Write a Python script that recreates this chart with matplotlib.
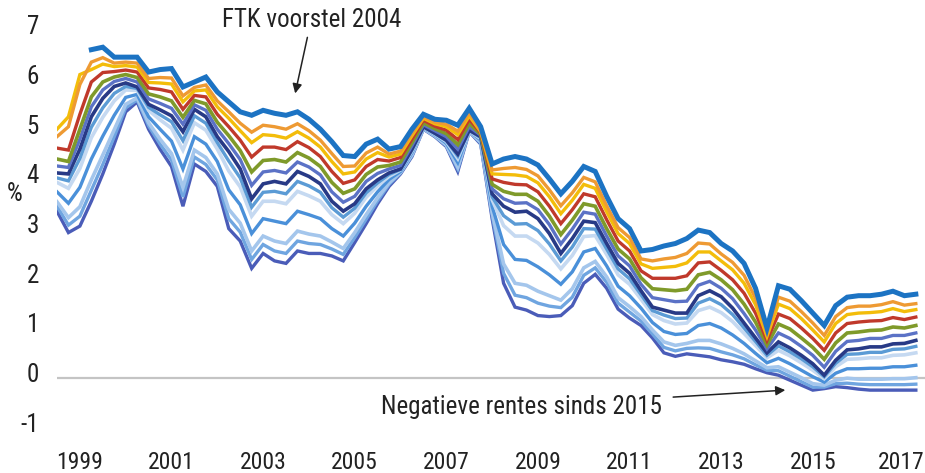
import matplotlib
matplotlib.use("Agg")
import matplotlib.pyplot as plt
import matplotlib.transforms as mtransforms
from matplotlib import font_manager
import numpy as np

installed = {f.name for f in font_manager.fontManager.ttflist}
narrow = [f for f in ["Liberation Sans Narrow", "Roboto Condensed", "DejaVu Sans Condensed",
                      "Open Sans Condensed", "Liberation Sans"] if f in installed]
plt.rcParams["font.family"] = narrow[:1] + ["DejaVu Sans"]
plt.rcParams["font.stretch"] = "condensed"
plt.rcParams["font.size"] = 18
plt.rcParams["axes.unicode_minus"] = False

nan = np.nan
# quarterly observations, 1999Q1 .. 2017Q4
quarters = np.arange(1999, 2018, 0.25)

# rates in %, from the longest maturity (top) to the shortest (bottom)
top_blue = [nan, nan, nan, 6.60, 6.65, 6.45, 6.45, 6.45, 6.15, 6.20,
            6.22, 5.85, 5.95, 6.05, 5.75, 5.55, 5.35, 5.28, 5.38, 5.32,
            5.28, 5.35, 5.20, 5.00, 4.75, 4.47, 4.45, 4.70, 4.80, 4.60,
            4.65, 5.00, 5.30, 5.20, 5.18, 5.08, 5.42, 5.05, 4.30, 4.40,
            4.45, 4.40, 4.28, 4.00, 3.70, 3.95, 4.25, 4.15, 3.65, 3.20,
            3.00, 2.55, 2.58, 2.65, 2.70, 2.80, 2.97, 2.92, 2.70, 2.55,
            2.30, 1.80, 1.00, 1.85, 1.78, 1.55, 1.30, 1.05, 1.45, 1.62,
            1.65, 1.65, 1.68, 1.74, 1.65, 1.68]
orange = [4.85, 5.05, 5.90, 6.35, 6.44, 6.33, 6.35, 6.33, 6.02, 6.04,
          6.03, 5.67, 5.84, 5.89, 5.57, 5.35, 5.12, 4.94, 5.08, 5.05,
          5.00, 5.11, 4.97, 4.78, 4.51, 4.25, 4.26, 4.52, 4.64, 4.50,
          4.56, 4.92, 5.25, 5.14, 5.10, 4.96, 5.33, 4.97, 4.18, 4.21,
          4.23, 4.19, 4.06, 3.78, 3.46, 3.72, 4.03, 3.94, 3.46, 3.02,
          2.82, 2.39, 2.35, 2.39, 2.42, 2.50, 2.71, 2.69, 2.49, 2.32,
          2.06, 1.60, 0.90, 1.62, 1.54, 1.33, 1.10, 0.85, 1.23, 1.41,
          1.44, 1.44, 1.47, 1.53, 1.46, 1.49]
yellow = [5.00, 5.25, 6.10, 6.20, 6.31, 6.26, 6.28, 6.25, 5.94, 5.93,
          5.91, 5.55, 5.77, 5.79, 5.45, 5.22, 4.97, 4.73, 4.89, 4.87,
          4.82, 4.95, 4.82, 4.64, 4.35, 4.10, 4.14, 4.40, 4.53, 4.44,
          4.50, 4.87, 5.22, 5.11, 5.05, 4.89, 5.27, 4.95, 4.10, 4.09,
          4.08, 4.05, 3.92, 3.64, 3.30, 3.57, 3.89, 3.81, 3.34, 2.90,
          2.70, 2.29, 2.20, 2.22, 2.24, 2.31, 2.53, 2.53, 2.35, 2.17,
          1.90, 1.47, 0.83, 1.48, 1.39, 1.19, 0.96, 0.72, 1.09, 1.27,
          1.30, 1.31, 1.33, 1.39, 1.33, 1.37]
red = [4.62, 4.58, 5.30, 5.95, 6.14, 6.16, 6.19, 6.15, 5.83, 5.80,
       5.75, 5.40, 5.68, 5.65, 5.30, 5.05, 4.78, 4.44, 4.64, 4.64,
       4.59, 4.75, 4.63, 4.45, 4.15, 3.91, 3.98, 4.25, 4.39, 4.36,
       4.43, 4.80, 5.18, 5.06, 4.98, 4.79, 5.20, 4.93, 4.00, 3.93,
       3.89, 3.88, 3.74, 3.45, 3.10, 3.38, 3.70, 3.64, 3.18, 2.75,
       2.55, 2.15, 2.00, 2.00, 2.00, 2.05, 2.31, 2.33, 2.16, 1.97,
       1.70, 1.30, 0.75, 1.28, 1.19, 1.00, 0.79, 0.55, 0.90, 1.09,
       1.12, 1.14, 1.15, 1.21, 1.17, 1.22]
green = [4.40, 4.35, 5.00, 5.65, 5.95, 6.05, 6.10, 6.04, 5.71, 5.65,
         5.57, 5.24, 5.58, 5.51, 5.14, 4.87, 4.57, 4.14, 4.37, 4.39,
         4.34, 4.53, 4.42, 4.25, 3.93, 3.71, 3.80, 4.09, 4.24, 4.27,
         4.34, 4.73, 5.13, 5.01, 4.91, 4.69, 5.12, 4.90, 3.89, 3.75,
         3.69, 3.69, 3.55, 3.25, 2.88, 3.17, 3.50, 3.45, 3.00, 2.59,
         2.39, 2.01, 1.79, 1.77, 1.75, 1.78, 2.07, 2.12, 1.97, 1.77,
         1.48, 1.12, 0.66, 1.08, 0.98, 0.80, 0.61, 0.37, 0.70, 0.90,
         0.92, 0.95, 0.96, 1.02, 1.00, 1.05]
slate = [4.26, 4.23, 4.80, 5.45, 5.79, 5.96, 6.02, 5.95, 5.61, 5.52,
         5.42, 5.10, 5.49, 5.38, 5.00, 4.71, 4.39, 3.87, 4.14, 4.17,
         4.12, 4.34, 4.24, 4.08, 3.74, 3.53, 3.65, 3.95, 4.11, 4.20,
         4.27, 4.67, 5.09, 4.97, 4.85, 4.60, 5.05, 4.88, 3.80, 3.60,
         3.51, 3.52, 3.38, 3.08, 2.69, 2.99, 3.33, 3.29, 2.85, 2.45,
         2.25, 1.88, 1.61, 1.57, 1.53, 1.54, 1.86, 1.94, 1.80, 1.59,
         1.29, 0.96, 0.58, 0.90, 0.79, 0.63, 0.45, 0.21, 0.53, 0.73,
         0.75, 0.79, 0.79, 0.85, 0.85, 0.90]
navy = [4.12, 4.10, 4.60, 5.25, 5.62, 5.86, 5.93, 5.85, 5.50, 5.39,
        5.27, 4.95, 5.40, 5.25, 4.85, 4.55, 4.20, 3.60, 3.90, 3.95,
        3.90, 4.15, 4.05, 3.90, 3.55, 3.35, 3.50, 3.80, 3.98, 4.12,
        4.20, 4.60, 5.05, 4.92, 4.78, 4.50, 4.98, 4.85, 3.70, 3.45,
        3.33, 3.35, 3.20, 2.90, 2.50, 2.80, 3.15, 3.12, 2.70, 2.30,
        2.10, 1.75, 1.42, 1.36, 1.30, 1.30, 1.65, 1.75, 1.63, 1.40,
        1.10, 0.80, 0.50, 0.72, 0.60, 0.45, 0.28, 0.05, 0.35, 0.56,
        0.58, 0.62, 0.62, 0.68, 0.69, 0.75]
light4 = [4.02, 3.96, 4.41, 5.04, 5.43, 5.72, 5.86, 5.82, 5.44, 5.29,
          5.15, 4.77, 5.27, 5.12, 4.73, 4.36, 4.02, 3.43, 3.73, 3.75,
          3.70, 3.95, 3.86, 3.73, 3.42, 3.23, 3.41, 3.72, 3.92, 4.09,
          4.19, 4.58, 5.05, 4.91, 4.77, 4.46, 4.98, 4.83, 3.64, 3.26,
          3.09, 3.10, 2.96, 2.69, 2.35, 2.63, 3.00, 2.99, 2.59, 2.19,
          1.99, 1.67, 1.35, 1.26, 1.19, 1.20, 1.50, 1.59, 1.47, 1.27,
          1.00, 0.73, 0.45, 0.64, 0.52, 0.38, 0.22, 0.02, 0.29, 0.47,
          0.48, 0.51, 0.51, 0.57, 0.58, 0.63]
light1 = [3.93, 3.81, 4.21, 4.83, 5.24, 5.57, 5.79, 5.78, 5.38, 5.19,
          5.02, 4.58, 5.13, 4.98, 4.60, 4.16, 3.84, 3.25, 3.55, 3.55,
          3.50, 3.75, 3.66, 3.55, 3.28, 3.10, 3.31, 3.63, 3.86, 4.05,
          4.18, 4.56, 5.04, 4.90, 4.75, 4.41, 4.97, 4.81, 3.58, 3.06,
          2.85, 2.85, 2.71, 2.48, 2.19, 2.46, 2.84, 2.86, 2.48, 2.07,
          1.88, 1.58, 1.27, 1.15, 1.08, 1.10, 1.35, 1.42, 1.31, 1.13,
          0.89, 0.65, 0.40, 0.55, 0.44, 0.30, 0.15, -0.02, 0.22, 0.37,
          0.38, 0.40, 0.40, 0.45, 0.46, 0.50]
light2 = [3.74, 3.51, 3.83, 4.40, 4.86, 5.28, 5.64, 5.70, 5.25, 5.00,
          4.76, 4.20, 4.85, 4.70, 4.35, 3.78, 3.48, 2.90, 3.20, 3.15,
          3.10, 3.35, 3.28, 3.20, 3.00, 2.85, 3.11, 3.45, 3.74, 3.99,
          4.15, 4.53, 5.03, 4.89, 4.72, 4.33, 4.97, 4.78, 3.45, 2.68,
          2.38, 2.36, 2.23, 2.07, 1.88, 2.13, 2.53, 2.60, 2.25, 1.84,
          1.65, 1.40, 1.11, 0.93, 0.87, 0.89, 1.05, 1.09, 1.00, 0.86,
          0.69, 0.49, 0.30, 0.39, 0.28, 0.15, 0.02, -0.09, 0.09, 0.18,
          0.18, 0.19, 0.19, 0.22, 0.22, 0.25]
light3 = [3.54, 3.22, 3.44, 3.98, 4.48, 4.99, 5.50, 5.63, 5.13, 4.80,
          4.51, 3.83, 4.58, 4.43, 4.10, 3.39, 3.11, 2.55, 2.85, 2.75,
          2.70, 2.95, 2.89, 2.85, 2.73, 2.60, 2.92, 3.28, 3.62, 3.92,
          4.13, 4.49, 5.01, 4.87, 4.68, 4.24, 4.96, 4.74, 3.33, 2.29,
          1.90, 1.86, 1.74, 1.65, 1.56, 1.79, 2.21, 2.34, 2.03, 1.61,
          1.43, 1.23, 0.96, 0.72, 0.65, 0.69, 0.75, 0.75, 0.68, 0.59,
          0.48, 0.34, 0.20, 0.22, 0.11, 0.00, -0.12, -0.15, -0.05, -0.01,
          -0.03, -0.03, -0.03, -0.02, -0.02, 0.00]
light5 = [3.45, 3.07, 3.25, 3.77, 4.29, 4.85, 5.43, 5.59, 5.07, 4.70,
          4.38, 3.64, 4.44, 4.29, 3.98, 3.20, 2.93, 2.38, 2.68, 2.55,
          2.50, 2.75, 2.70, 2.68, 2.59, 2.48, 2.82, 3.19, 3.56, 3.89,
          4.12, 4.47, 5.01, 4.86, 4.67, 4.20, 4.96, 4.72, 3.27, 2.10,
          1.66, 1.61, 1.50, 1.44, 1.41, 1.62, 2.06, 2.21, 1.92, 1.50,
          1.32, 1.14, 0.88, 0.61, 0.54, 0.59, 0.60, 0.59, 0.52, 0.46,
          0.38, 0.26, 0.15, 0.14, 0.03, -0.08, -0.19, -0.19, -0.12, -0.11,
          -0.13, -0.14, -0.14, -0.14, -0.14, -0.13]
bottom = [3.35, 2.92, 3.05, 3.55, 4.10, 4.70, 5.35, 5.55, 5.00, 4.60,
          4.25, 3.45, 4.30, 4.15, 3.85, 3.00, 2.75, 2.20, 2.50, 2.35,
          2.30, 2.55, 2.50, 2.50, 2.45, 2.35, 2.72, 3.10, 3.50, 3.85,
          4.10, 4.45, 5.00, 4.85, 4.65, 4.15, 4.95, 4.70, 3.20, 1.90,
          1.42, 1.36, 1.25, 1.23, 1.25, 1.45, 1.90, 2.08, 1.80, 1.38,
          1.20, 1.05, 0.80, 0.50, 0.43, 0.48, 0.45, 0.42, 0.36, 0.32,
          0.27, 0.18, 0.10, 0.05, -0.05, -0.15, -0.25, -0.22, -0.18, -0.20,
          -0.23, -0.25, -0.25, -0.25, -0.25, -0.25]

year_labels = ["1999", "2001", "2003", "2005", "2007", "2009", "2011", "2013", "2015", "2017"]

# drawn bottom-up so the long end sits on top
series = [
    (bottom, "#4a5cb8", 2.4),
    (light5, "#6fa5e0", 2.4),
    (light3, "#a4c6ec", 2.6),
    (light2, "#4a90d9", 2.4),
    (light1, "#c5d9f1", 2.6),
    (light4, "#5b9bd5", 2.4),
    (navy, "#283a86", 2.6),
    (slate, "#5b72c6", 2.4),
    (green, "#7f9a2a", 2.6),
    (red, "#c0392b", 2.4),
    (yellow, "#f3bd0a", 2.4),
    (orange, "#ee9a33", 2.4),
    (top_blue, "#1c73c3", 3.6),
]

fig = plt.figure(figsize=(9.25, 4.73), dpi=100)
ax = fig.add_axes([0.0616, 0.0649, 0.9384, 0.9036])

ax.axhline(0, color="#c4c4c4", lw=1.6, zorder=0)
for vals, col, lw in series:
    ax.plot(quarters, vals, color=col, lw=lw, solid_joinstyle="miter")

ax.set_xlim(1999, 2017.95)
ax.set_ylim(-1.3, 7.3)
ax.set_yticks(range(-1, 8))
ax.set_xticks([int(y) + 0.5 for y in year_labels])
ax.set_xticklabels(year_labels, fontsize=17)
ax.tick_params(length=0, colors="#222222")
ax.tick_params(axis="y", pad=13)
ax.tick_params(axis="x", pad=6)
for s in ax.spines.values():
    s.set_visible(False)
shift = mtransforms.ScaledTranslation(0, 0.05, fig.dpi_scale_trans)
for lbl in ax.get_yticklabels():
    lbl.set_transform(lbl.get_transform() + shift)
xshift = mtransforms.ScaledTranslation(-0.03, 0, fig.dpi_scale_trans)
last = ax.get_xticklabels()[-1]
last.set_transform(last.get_transform() + xshift)

fig.text(15 / 925, 1 - 194 / 473, "%", ha="center", va="center", fontsize=18, color="#222222")

ax.annotate("FTK voorstel 2004", xy=(2004.2, 5.72), xytext=(2004.55, 7.2),
            ha="center", va="center", color="#222222",
            arrowprops=dict(arrowstyle="-|>", color="#222222", lw=1.1,
                            mutation_scale=14, shrinkA=2, shrinkB=0))
ax.annotate("Negatieve rentes sinds 2015", xy=(2014.9, -0.25), xytext=(2012.21, -0.58),
            ha="right", va="center", color="#222222",
            arrowprops=dict(arrowstyle="-|>", color="#222222", lw=1.1,
                            mutation_scale=14, shrinkA=6, shrinkB=0))

fig.savefig("out.png", dpi=100)
